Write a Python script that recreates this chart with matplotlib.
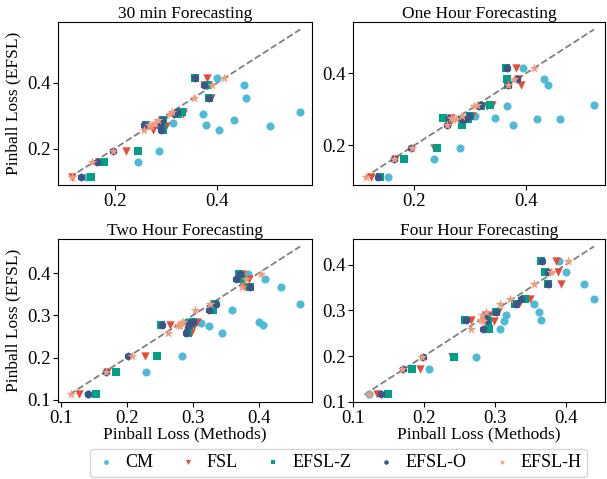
import numpy as np
import matplotlib.pyplot as plt

plt.rcParams['font.family'] = ['Liberation Serif', 'DejaVu Serif']
plt.rcParams['font.size'] = 12

# ------------------------------------------
# Daten
# ------------------------------------------
titles = ["30 min Forecasting", "One Hour Forecasting",
          "Two Hour Forecasting", "Four Hour Forecasting"]
series = ["CM", "FSL", "EFSL-Z", "EFSL-O", "EFSL-H"]

# y: Pinball Loss (EFSL), x: Pinball Loss der Methoden
y_30 = [0.415, 0.393, 0.355, 0.313, 0.306, 0.286, 0.278, 0.271, 0.268, 0.256, 0.192, 0.160, 0.112]
cm_30 = [0.400, 0.453, 0.457, 0.563, 0.372, 0.434, 0.314, 0.379, 0.503, 0.405, 0.286, 0.245, 0.144]
fsl_30 = [0.381, 0.374, 0.388, 0.334, 0.333, 0.296, 0.290, 0.262, 0.300, 0.275, 0.223, 0.170, 0.116]
z_30 = [0.357, 0.382, 0.385, 0.332, 0.325, 0.295, 0.290, 0.261, 0.292, 0.295, 0.246, 0.179, 0.153]
o_30 = [0.357, 0.375, 0.385, 0.322, 0.316, 0.293, 0.288, 0.257, 0.289, 0.290, 0.197, 0.166, 0.134]
h_30 = [0.413, 0.390, 0.355, 0.312, 0.308, 0.285, 0.280, 0.268, 0.272, 0.258, 0.197, 0.156, 0.116]

y_1h = [0.414, 0.383, 0.366, 0.313, 0.308, 0.280, 0.276, 0.274, 0.272, 0.256, 0.194, 0.161, 0.111]
cm_1h = [0.394, 0.431, 0.439, 0.521, 0.366, 0.309, 0.344, 0.420, 0.460, 0.377, 0.282, 0.236, 0.153]
fsl_1h = [0.382, 0.385, 0.391, 0.338, 0.329, 0.303, 0.265, 0.298, 0.300, 0.262, 0.236, 0.165, 0.123]
z_1h = [0.363, 0.366, 0.367, 0.335, 0.319, 0.300, 0.252, 0.296, 0.285, 0.285, 0.241, 0.181, 0.139]
o_1h = [0.365, 0.383, 0.368, 0.318, 0.316, 0.298, 0.262, 0.286, 0.290, 0.259, 0.195, 0.164, 0.136]
h_1h = [0.414, 0.379, 0.368, 0.312, 0.307, 0.286, 0.265, 0.270, 0.275, 0.259, 0.196, 0.163, 0.114]

y_2h = [0.398, 0.387, 0.366, 0.326, 0.312, 0.284, 0.282, 0.277, 0.276, 0.259, 0.203, 0.165, 0.113]
cm_2h = [0.384, 0.409, 0.434, 0.463, 0.360, 0.400, 0.312, 0.407, 0.324, 0.345, 0.283, 0.229, 0.141]
fsl_2h = [0.374, 0.386, 0.378, 0.333, 0.330, 0.306, 0.298, 0.266, 0.302, 0.297, 0.227, 0.170, 0.128]
z_2h = [0.370, 0.375, 0.387, 0.334, 0.330, 0.300, 0.296, 0.252, 0.294, 0.292, 0.245, 0.183, 0.153]
o_2h = [0.371, 0.365, 0.387, 0.335, 0.324, 0.300, 0.295, 0.253, 0.292, 0.289, 0.202, 0.169, 0.141]
h_2h = [0.403, 0.380, 0.374, 0.326, 0.304, 0.285, 0.282, 0.277, 0.280, 0.263, 0.207, 0.168, 0.115]

y_4h = [0.409, 0.384, 0.358, 0.326, 0.313, 0.297, 0.289, 0.278, 0.277, 0.260, 0.198, 0.171, 0.116]
cm_4h = [0.390, 0.400, 0.426, 0.440, 0.356, 0.363, 0.316, 0.365, 0.313, 0.308, 0.274, 0.207, 0.123]
fsl_4h = [0.386, 0.389, 0.393, 0.350, 0.334, 0.305, 0.292, 0.267, 0.299, 0.292, 0.240, 0.195, 0.134]
z_4h = [0.365, 0.371, 0.375, 0.343, 0.329, 0.301, 0.287, 0.258, 0.290, 0.292, 0.243, 0.183, 0.149]
o_4h = [0.367, 0.375, 0.375, 0.337, 0.330, 0.301, 0.286, 0.259, 0.288, 0.284, 0.199, 0.171, 0.140]
h_4h = [0.403, 0.380, 0.355, 0.321, 0.308, 0.288, 0.282, 0.280, 0.284, 0.267, 0.197, 0.169, 0.122]

panels = [
    (y_30, [cm_30, fsl_30, z_30, o_30, h_30]),
    (y_1h, [cm_1h, fsl_1h, z_1h, o_1h, h_1h]),
    (y_2h, [cm_2h, fsl_2h, z_2h, o_2h, h_2h]),
    (y_4h, [cm_4h, fsl_4h, z_4h, o_4h, h_4h]),
]

colors = ["#4DBBD5", "#E64B35", "#00A087", "#3C5488", "#F39B7F"]
markers = ["o", "v", "s", "h", "*"]
sizes = [34, 36, 34, 36, 55]

# ------------------------------------------
# Plot
# ------------------------------------------
fig = plt.figure(figsize=(6.07, 4.79), dpi=100)
boxes = [
    [0.0956, 0.614, 0.418, 0.340],
    [0.5815, 0.614, 0.416, 0.340],
    [0.0956, 0.161, 0.418, 0.340],
    [0.5815, 0.161, 0.416, 0.340],
]

for i, (box, title, (yv, xs)) in enumerate(zip(boxes, titles, panels)):
    ax = fig.add_axes(box)
    for x, lab, c, m, s in zip(xs, series, colors, markers, sizes):
        ax.scatter(x, yv, color=c, marker=m, s=s, label=lab, zorder=3, linewidths=0)
    allv = np.concatenate([np.ravel(xs), yv])
    lo, hi = allv.min(), allv.max()
    ax.plot([lo, hi], [lo, hi], "--", color="gray", lw=1.3, zorder=2)
    ax.set_title(title, fontsize=12.5, pad=3)
    if i % 2 == 0:
        ax.set_ylabel("Pinball Loss (EFSL)", fontsize=12.5)
    if i >= 2:
        ax.set_xlabel("Pinball Loss (Methods)", fontsize=12.5, labelpad=0)
    if i < 2:
        ax.set_xticks([0.2, 0.4])
        ax.set_yticks([0.2, 0.4])
    else:
        ax.set_xticks([0.1, 0.2, 0.3, 0.4])
        ax.set_yticks([0.1, 0.2, 0.3, 0.4])
    ax.tick_params(labelsize=13.5, pad=2)
    if i == 0:
        handles, labels = ax.get_legend_handles_labels()

fig.legend(handles, labels, loc="center", bbox_to_anchor=(0.558, 0.034),
           ncol=5, fontsize=13, markerscale=0.6, handlelength=1.1,
           handletextpad=0.5, columnspacing=1.4, frameon=True, borderpad=0.3)

plt.savefig("out.png", dpi=100)
